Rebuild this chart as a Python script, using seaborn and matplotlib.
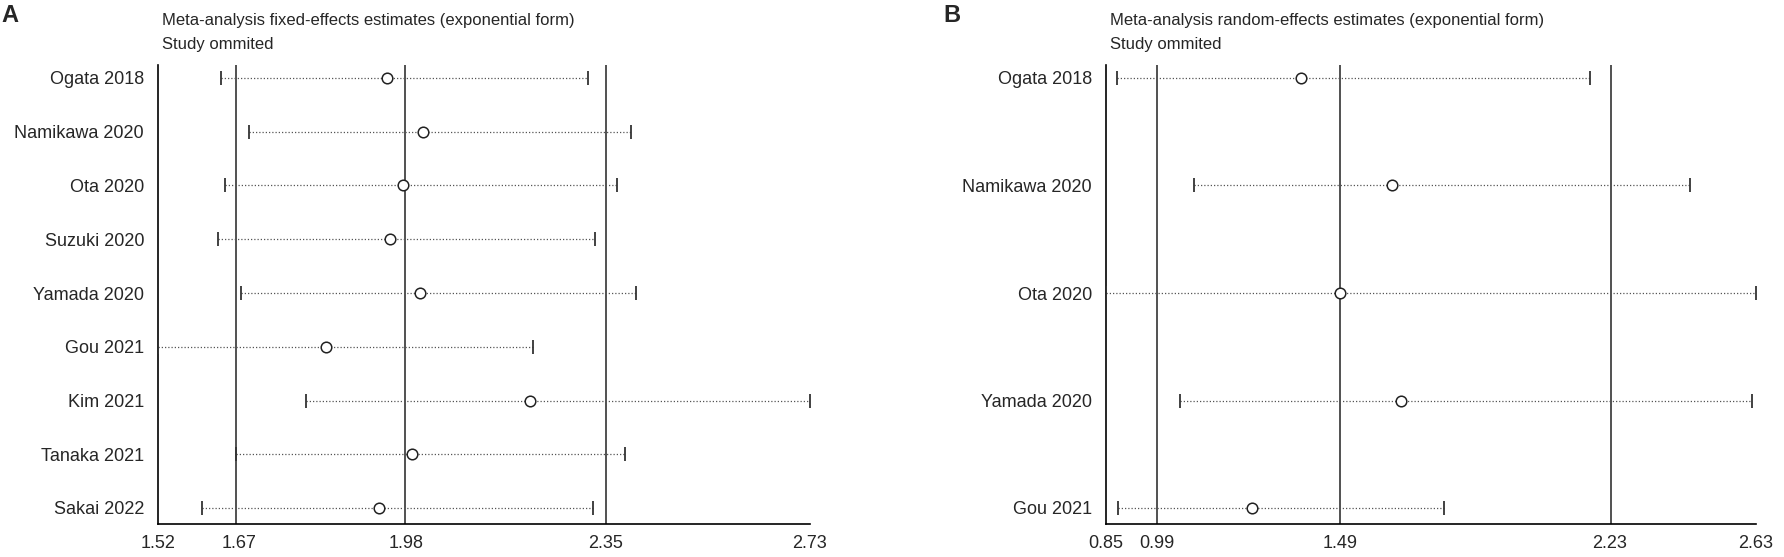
import numpy as np
import pandas as pd
import seaborn as sns
import matplotlib.pyplot as plt

# panel A: fixed-effects, one study omitted at a time
studies_a = ["Ogata 2018", "Namikawa 2020", "Ota 2020", "Suzuki 2020", "Yamada 2020",
             "Gou 2021", "Kim 2021", "Tanaka 2021", "Sakai 2022"]
est_a = [1.945, 2.011, 1.975, 1.950, 2.006, 1.832, 2.211, 1.991, 1.931]
lo_a = [1.636, 1.688, 1.644, 1.631, 1.674, 1.520, 1.795, 1.664, 1.602]
hi_a = [2.318, 2.398, 2.372, 2.331, 2.408, 2.216, 2.730, 2.387, 2.327]
overall_a = [1.665, 1.978, 2.352]
ticks_a = [1.52, 1.67, 1.98, 2.35, 2.73]

# panel B: random-effects
studies_b = ["Ogata 2018", "Namikawa 2020", "Ota 2020", "Yamada 2020", "Gou 2021"]
est_b = [1.384, 1.634, 1.491, 1.659, 1.250]
lo_b = [0.880, 1.091, 0.850, 1.053, 0.883]
hi_b = [2.175, 2.449, 2.630, 2.620, 1.775]
overall_b = [0.99, 1.49, 2.234]
ticks_b = [0.85, 0.99, 1.49, 2.23, 2.63]

sns.set_theme(style="white")
plt.rcParams["font.family"] = ["Liberation Sans", "DejaVu Sans"]

W, H = 1784, 557
fig = plt.figure(figsize=(W / 100, H / 100), dpi=100)
ax_a = fig.add_axes([158 / W, 33 / H, 652 / W, 459 / H])
ax_b = fig.add_axes([1106 / W, 33 / H, 650 / W, 459 / H])


def draw_panel(ax, studies, est, lo, hi, overall, ticks):
    df = pd.DataFrame({"study": studies, "est": est, "lo": lo, "hi": hi})
    df["pos"] = np.arange(len(df))
    n = len(df)

    # overall lower CI, estimate, upper CI
    for v in overall:
        ax.axvline(v, color="#333333", lw=1.2, zorder=1)

    ax.hlines(df["pos"], df["lo"], df["hi"], color="#555555", lw=0.9,
              linestyles=(0, (1, 1.6)), zorder=2)
    caps = pd.concat([df[["lo", "pos"]].rename(columns={"lo": "x"}),
                      df[["hi", "pos"]].rename(columns={"hi": "x"})])
    sns.scatterplot(data=caps, x="x", y="pos", marker="|", s=110, color="#333333",
                    linewidth=1.3, ax=ax, zorder=3, legend=False)
    sns.scatterplot(data=df, x="est", y="pos", marker="o", s=58, facecolor="white",
                    edgecolor="#222222", linewidth=1.1, ax=ax, zorder=4, legend=False)

    row_px = 430 / (n - 1)
    ax.set_ylim(n - 1 + 16 / row_px, -13 / row_px)
    ax.set_xlim(ticks[0], ticks[-1])
    ax.set_yticks(df["pos"])
    ax.set_yticklabels(df["study"], fontsize=13)
    ax.set_xticks(ticks)
    ax.set_xticklabels([f"{t:.2f}" for t in ticks], fontsize=13)
    ax.set_xlabel("")
    ax.set_ylabel("")
    ax.tick_params(axis="y", length=0, pad=10)
    ax.tick_params(axis="x", length=5, width=1, color="black", direction="out", pad=3)
    sns.despine(ax=ax, top=True, right=True)
    for s in ["left", "bottom"]:
        ax.spines[s].set_color("black")
        ax.spines[s].set_linewidth(1.2)


draw_panel(ax_a, studies_a, est_a, lo_a, hi_a, overall_a, ticks_a)
draw_panel(ax_b, studies_b, est_b, lo_b, hi_b, overall_b, ticks_b)

fig.text(1 / W, 1 - 16 / H, "A", fontsize=17, fontweight="bold", va="center", ha="left")
fig.text(943 / W, 1 - 16 / H, "B", fontsize=17, fontweight="bold", va="center", ha="left")
fig.text(162 / W, 1 - 21 / H, "Meta-analysis fixed-effects estimates (exponential form)",
         fontsize=12, va="center", ha="left")
fig.text(162 / W, 1 - 45 / H, "Study ommited", fontsize=12, va="center", ha="left")
fig.text(1110 / W, 1 - 21 / H, "Meta-analysis random-effects estimates (exponential form)",
         fontsize=12, va="center", ha="left")
fig.text(1110 / W, 1 - 45 / H, "Study ommited", fontsize=12, va="center", ha="left")

fig.savefig("out.png", dpi=100)
